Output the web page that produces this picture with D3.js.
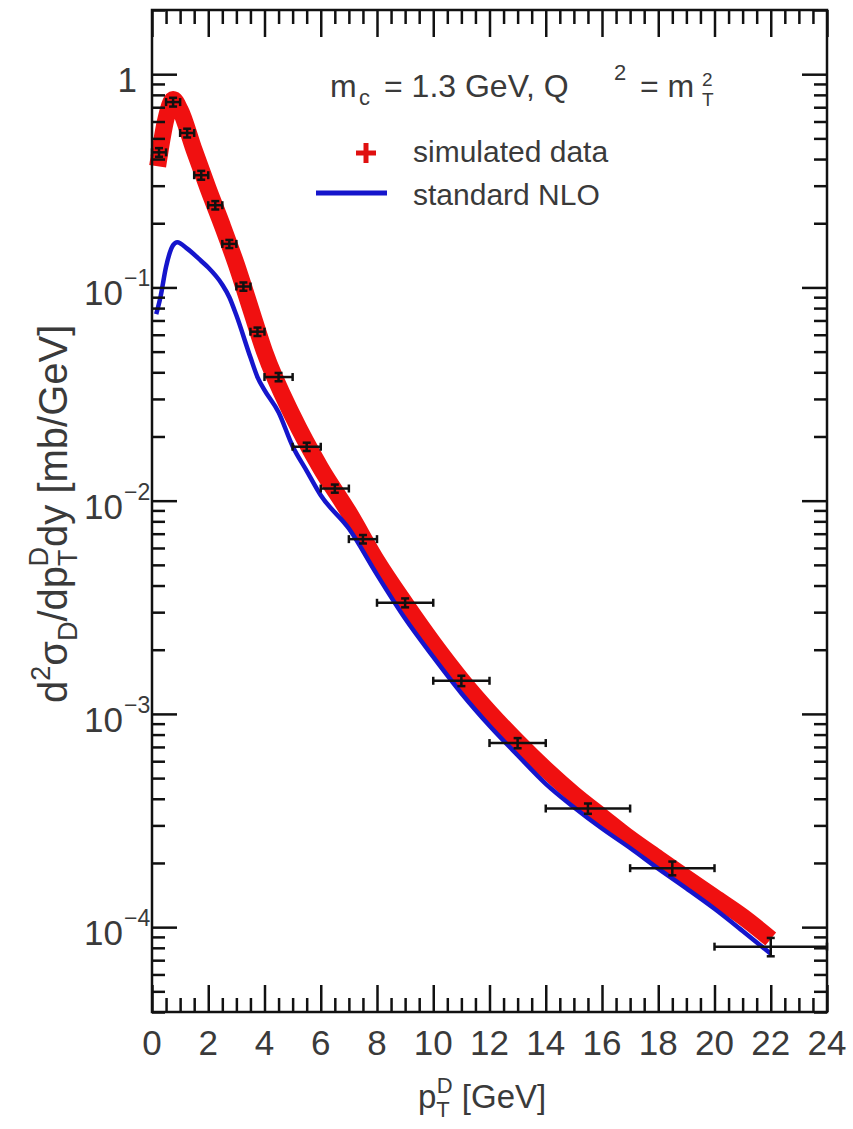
<!DOCTYPE html>
<html>
<head>
<meta charset="utf-8">
<script src="https://cdnjs.cloudflare.com/ajax/libs/d3/7.8.5/d3.min.js"></script>
<style>
body{margin:0;background:#fff}
svg{display:block}
text{font-family:"Liberation Sans",Arial,Helvetica,sans-serif;fill:#3a3a3a}
</style>
</head>
<body>
<svg id="chart" width="853" height="1129"></svg>
<script>
//simulated data points: bin centre, bin half width, value, error
var ptX=[0.25,0.75,1.25,1.75,2.25,2.75,3.25,3.75,4.5,5.5,6.5,7.5,9,11,13,15.5,18.5,22];
var ptHalf=[0.25,0.25,0.25,0.25,0.25,0.25,0.25,0.25,0.5,0.5,0.5,0.5,1,1,1,1.5,1.5,2];
var ptY=[0.43,0.74,0.53,0.336,0.243,0.16,0.101,0.062,0.038,0.0179,0.0114,0.0066,0.00332,0.00143,0.00073,0.00036,0.000189,0.000081];
var ptErr=[0.02,0.035,0.025,0.016,0.011,0.007,0.0045,0.0028,0.0017,0.0008,0.0005,0.0003,0.00016,0.00008,0.00004,0.00002,0.000014,0.000008];

//red band (centre of the band)
var bandX=[0.2,0.5,0.75,1,1.5,2,2.5,3,3.5,4,5,6,7,8,9,10,11,12,13,14,15,16,17,18,19,20,21,22];
var bandY=[0.37,0.62,0.76,0.68,0.44,0.29,0.195,0.128,0.08,0.05,0.025,0.0142,0.0088,0.0052,0.0033,0.00215,0.00145,0.00102,0.00074,0.00055,0.00042,0.00033,0.00026,0.00021,0.00017,0.000138,0.000112,0.000088];

//standard NLO
var nloX=[0.15,0.3,0.5,0.75,0.9,1.25,1.75,2,2.5,2.75,3,3.5,3.75,4,4.5,5,5.5,6,7,8,9,10,11,12,13,14,15,16,17,18,19,20,21,22];
var nloY=[0.075,0.09,0.125,0.158,0.163,0.152,0.133,0.124,0.103,0.09,0.074,0.047,0.038,0.033,0.026,0.018,0.0138,0.0106,0.0074,0.0045,0.0028,0.00185,0.00125,0.00088,0.00064,0.00047,0.000365,0.00029,0.000235,0.000188,0.000152,0.000122,0.000096,0.000075];

var xMajor=[0,2,4,6,8,10,12,14,16,18,20,22,24];
var yMajor=[1,0.1,0.01,0.001,0.0001];
var yExp=["0","\u22121","\u22122","\u22123","\u22124"];

var svg=d3.select("#chart");
var x=d3.scaleLinear().domain([0,24]).range([152,827]);
var y=d3.scaleLog().domain([4e-5,2]).range([1012,10]);

var xMinor=d3.range(0,24.01,0.5).filter(function(v){return v%2!=0;});
var yMinor=[];
[1e-5,1e-4,1e-3,1e-2,1e-1,1].forEach(function(d){
    for(var k=2;k<10;k++){var v=d*k; if(v>=4e-5&&v<=2) yMinor.push(v);}
});

function rich(sel,parts){
    var cur=0;
    parts.forEach(function(p){
        var t=sel.append("tspan").text(p.t).attr("font-size",p.s).attr("dy",(p.dy||0)-cur);
        if(p.dx) t.attr("dx",p.dx);
        if(p.x) t.attr("x",p.x);
        cur=p.dy||0;
    });
}

//curves
var band=d3.line().x(function(d,i){return x(bandX[i]);}).y(function(d,i){return y(bandY[i]);}).curve(d3.curveMonotoneX);
svg.append("path").attr("d",band(bandX)).attr("fill","none").attr("stroke","#f01010").attr("stroke-width",17).attr("stroke-linejoin","round");

var nlo=d3.line().x(function(d,i){return x(nloX[i]);}).y(function(d,i){return y(nloY[i]);}).curve(d3.curveMonotoneX);
svg.append("path").attr("d",nlo(nloX)).attr("fill","none").attr("stroke","#1515cc").attr("stroke-width",4.5).attr("stroke-linejoin","round");

//data points
var pts=svg.append("g").attr("stroke","#111").attr("stroke-width",2.5);
ptX.forEach(function(v,i){
    var cy=y(ptY[i]),x0=x(v-ptHalf[i]),x1=x(v+ptHalf[i]),cx=x(v);
    var y0=y(ptY[i]+ptErr[i]),y1=y(ptY[i]-ptErr[i]);
    pts.append("line").attr("x1",x0).attr("x2",x1).attr("y1",cy).attr("y2",cy);
    pts.append("line").attr("x1",x0).attr("x2",x0).attr("y1",cy-4).attr("y2",cy+4);
    pts.append("line").attr("x1",x1).attr("x2",x1).attr("y1",cy-4).attr("y2",cy+4);
    pts.append("line").attr("x1",cx).attr("x2",cx).attr("y1",y0).attr("y2",y1);
    pts.append("line").attr("x1",cx-4).attr("x2",cx+4).attr("y1",y0).attr("y2",y0);
    pts.append("line").attr("x1",cx-4).attr("x2",cx+4).attr("y1",y1).attr("y2",y1);
});

//axes, ticks inside on all four sides
function ticks(axis,scale,vals,len,tr){
    var g=svg.append("g").attr("transform",tr).call(axis(scale).tickValues(vals).tickSize(len).tickFormat(""));
    g.select(".domain").remove();
    g.selectAll("line").attr("stroke","#111").attr("stroke-width",2.5);
}
ticks(d3.axisBottom,x,xMajor,-27,"translate(0,1012)");
ticks(d3.axisBottom,x,xMinor,-14,"translate(0,1012)");
ticks(d3.axisTop,x,xMajor,-27,"translate(0,10)");
ticks(d3.axisTop,x,xMinor,-14,"translate(0,10)");
ticks(d3.axisLeft,y,yMajor,-25,"translate(152,0)");
ticks(d3.axisLeft,y,yMinor,-13,"translate(152,0)");
ticks(d3.axisRight,y,yMajor,-25,"translate(827,0)");
ticks(d3.axisRight,y,yMinor,-13,"translate(827,0)");

svg.append("rect").attr("x",152).attr("y",10).attr("width",675).attr("height",1002)
    .attr("fill","none").attr("stroke","#111").attr("stroke-width",2.5);

//tick labels
xMajor.forEach(function(v){
    svg.append("text").attr("x",x(v)).attr("y",1055).attr("text-anchor","middle").attr("font-size",35).text(v);
});
yMajor.forEach(function(v,i){
    var ty=y(v);
    if(i==0){
        svg.append("text").attr("x",137).attr("y",ty+18).attr("text-anchor","end").attr("font-size",35).text("1");
    }else{
        svg.append("text").attr("x",123).attr("y",ty+18).attr("text-anchor","end").attr("font-size",35).text("10");
        svg.append("text").attr("x",124).attr("y",ty-1).attr("font-size",23).text(yExp[i]);
    }
});

//axis titles
var xt=svg.append("text").attr("x",418).attr("y",1108).attr("font-size",33);
rich(xt,[{t:"p",s:33},{t:"T",s:22,dy:9},{t:"D",s:22,dy:-15,dx:-13},{t:" [GeV]",s:33}]);

var yt=svg.append("text").attr("transform","translate(67,703) rotate(-90)").attr("font-size",40);
rich(yt,[{t:"d",s:40},{t:"2",s:27,dy:-17},{t:"\u03c3",s:40},{t:"D",s:27,dy:10},{t:"/dp",s:40},
    {t:"T",s:27,dy:10},{t:"D",s:27,dy:-19,dx:-17},{t:"dy [mb/GeV]",s:40}]);

//annotation
var an=svg.append("text").attr("x",330).attr("y",97).attr("font-size",32);
rich(an,[{t:"m",s:32},{t:"c",s:22,dy:8,x:359},{t:"= 1.3 GeV, Q",s:32,x:384},{t:"2",s:22,dy:-17,x:614},
    {t:"= m",s:32,x:640},{t:"2",s:19,dy:-11,x:702},{t:"T",s:19,dy:9,x:702}]);

//legend
svg.append("line").attr("x1",356).attr("x2",376).attr("y1",153).attr("y2",153).attr("stroke","#e01010").attr("stroke-width",5);
svg.append("line").attr("x1",366).attr("x2",366).attr("y1",143).attr("y2",163).attr("stroke","#e01010").attr("stroke-width",5);
svg.append("text").attr("x",413).attr("y",162).attr("font-size",30).text("simulated data");
svg.append("line").attr("x1",316).attr("x2",387).attr("y1",193).attr("y2",193).attr("stroke","#1515cc").attr("stroke-width",5);
svg.append("text").attr("x",413).attr("y",205).attr("font-size",30).text("standard NLO");
</script>
</body>
</html>
